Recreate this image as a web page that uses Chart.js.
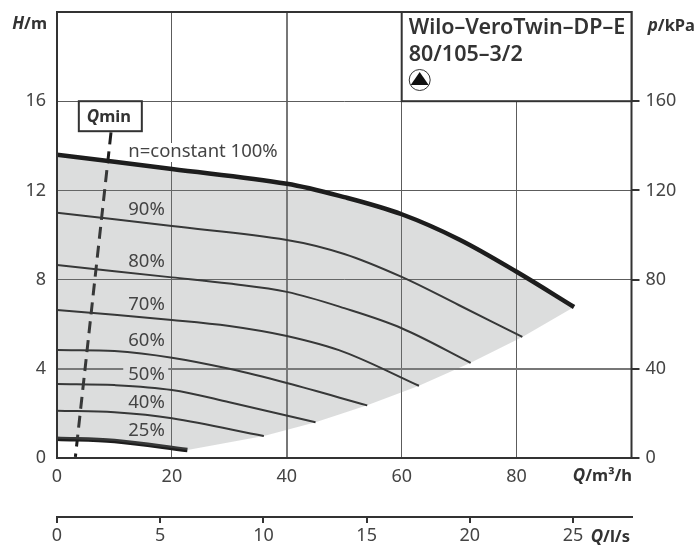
<!DOCTYPE html>
<html>
<head>
<meta charset="utf-8">
<title>Wilo-VeroTwin-DP-E 80/105-3/2</title>
<script src="https://cdn.jsdelivr.net/npm/chart.js@4/dist/chart.umd.min.js"></script>
<style>
  html, body { margin: 0; padding: 0; background: #fff; }
  canvas { display: block; }
</style>
</head>
<body>
<canvas id="pump" width="696" height="551"></canvas>
<script>
// Q in m3/h, H in m
var q100 = [0, 20, 40, 50, 60, 70, 80, 90];
var h100 = [13.6, 12.96, 12.3, 11.7, 10.93, 9.8, 8.35, 6.77];
var q90 = [0, 20, 40, 50, 60, 70, 81];
var h90 = [11.0, 10.4, 9.78, 9.15, 8.12, 6.85, 5.43];
var q80 = [0, 20, 30, 40, 50, 60, 72];
var h80 = [8.65, 8.1, 7.82, 7.45, 6.72, 5.82, 4.27];
var q70 = [0, 20, 30, 40, 50, 63];
var h70 = [6.64, 6.19, 5.92, 5.47, 4.75, 3.24];
var q60 = [0, 10, 20, 30, 40, 54];
var h60 = [4.84, 4.8, 4.5, 4.0, 3.36, 2.36];
var q50 = [0, 10, 20, 30, 45];
var h50 = [3.32, 3.27, 3.05, 2.5, 1.6];
var q40 = [0, 10, 20, 36];
var h40 = [2.12, 2.05, 1.78, 0.99];
var q25 = [0, 10, 22.7];
var h25 = [0.86, 0.76, 0.36];
var qMinQ = [9.4, 3.2];
var qMinH = [14.6, 0.05];

var curveLabels = ['n=constant 100%', '90%', '80%', '70%', '60%', '50%', '40%', '25%'];
var leftTicks = [0, 4, 8, 12, 16];
var rightTicks = [0, 40, 80, 120, 160];
var titleLines = ['Wilo\u2013VeroTwin\u2013DP\u2013E', '80/105\u20133/2'];

var FONT = '"Noto Sans", sans-serif';
var INK = '#1d1d1d';
var TEXT = '#444';
var GRID = '#5c5c5c';

function pts(xs, ys) {
    return xs.map(function(x, i) { return { x: x, y: ys[i] }; });
}

// lower edge of the grey area: 25% curve, then the ends of the other curves
function lowerEdge() {
    var edge = pts(q25, h25);
    [[q40, h40], [q50, h50], [q60, h60], [q70, h70], [q80, h80], [q90, h90], [q100, h100]].forEach(function(c) {
        var last = c[0].length - 1;
        edge.push({ x: c[0][last], y: c[1][last] });
    });
    return edge;
}

function curve(label, xs, ys, width) {
    return {
        label: label,
        data: pts(xs, ys),
        borderColor: INK,
        borderWidth: width,
        pointRadius: 0,
        tension: 0.35,
        borderCapStyle: 'butt',
        fill: false
    };
}

// text made of runs, so the italic letter can sit next to the upright ones
function runs(ctx, parts, x, y, align) {
    ctx.textBaseline = 'middle';
    ctx.textAlign = 'left';
    var total = 0;
    parts.forEach(function(p) {
        ctx.font = p[1];
        total += ctx.measureText(p[0]).width;
    });
    var cx = align === 'right' ? x - total : x;
    parts.forEach(function(p) {
        ctx.font = p[1];
        ctx.fillText(p[0], cx, y);
        cx += ctx.measureText(p[0]).width;
    });
}

var overlay = {
    id: 'overlay',
    afterDatasetsDraw: function(chart) {
        var ctx = chart.ctx;
        var sx = chart.scales.x;
        var sy = chart.scales.y;
        var a = chart.chartArea;
        var it = 'italic 700 17px ' + FONT;
        var bd = '700 16.5px ' + FONT;
        ctx.save();

        // breaks in the grid behind two of the curve labels
        var labelX = sx.getPixelForValue(12.4);
        ctx.fillStyle = '#fff';
        ctx.fillRect(sx.getPixelForValue(20) - 2, 143, 4, 19);
        ctx.fillStyle = '#dcddde';
        ctx.fillRect(labelX - 5, sy.getPixelForValue(4) - 2, 45, 4);

        var labelY = [152, 210, 262, 305, 341, 375, 403, 431];
        ctx.fillStyle = TEXT;
        ctx.font = '18.5px ' + FONT;
        ctx.textAlign = 'left';
        ctx.textBaseline = 'middle';
        curveLabels.forEach(function(t, i) {
            ctx.fillText(t, labelX, labelY[i]);
        });

        // frame
        ctx.strokeStyle = '#333';
        ctx.lineWidth = 2;
        ctx.strokeRect(a.left, a.top, a.right - a.left, a.bottom - a.top);

        // type box
        var bx = sx.getPixelForValue(60);
        var by = sy.getPixelForValue(16);
        ctx.fillStyle = '#fff';
        ctx.fillRect(bx, a.top, a.right - bx, by - a.top);
        ctx.strokeRect(bx, a.top, a.right - bx, by - a.top);
        ctx.fillStyle = '#333';
        ctx.font = '600 21.5px ' + FONT;
        ctx.fillText(titleLines[0], bx + 7, 28);
        ctx.fillText(titleLines[1], bx + 7, 55);
        ctx.beginPath();
        ctx.arc(bx + 18, 80, 10.5, 0, Math.PI * 2);
        ctx.lineWidth = 1;
        ctx.stroke();
        ctx.fillStyle = '#111';
        ctx.beginPath();
        ctx.moveTo(bx + 18, 72);
        ctx.lineTo(bx + 27, 85);
        ctx.lineTo(bx + 9, 85);
        ctx.closePath();
        ctx.fill();

        // Qmin box
        var qx = sx.getPixelForValue(3.8);
        var qy = sy.getPixelForValue(16);
        ctx.fillStyle = '#fff';
        ctx.fillRect(qx, qy, 63, 30);
        ctx.strokeStyle = '#333';
        ctx.lineWidth = 2;
        ctx.strokeRect(qx, qy, 63, 30);
        ctx.fillStyle = '#333';
        runs(ctx, [['Q', it], ['min', bd]], qx + 8, qy + 16, 'left');

        // axis names
        runs(ctx, [['H', it], ['/m', bd]], 47, 24, 'right');
        runs(ctx, [['p', it], ['/kPa', bd]], 695, 26, 'right');
        runs(ctx, [['Q', it], ['/m\u00b3/h', bd]], 632, 476, 'right');
        runs(ctx, [['Q', it], ['/l/s', bd]], 630, 537, 'right');
        ctx.restore();
    }
};

var edgeSet = {
    label: 'edge',
    data: lowerEdge(),
    borderWidth: 0,
    borderColor: 'transparent',
    pointRadius: 0,
    fill: false
};
var topSet = curve(curveLabels[0], q100, h100, 4.5);
topSet.fill = { target: 1 };
topSet.backgroundColor = 'rgba(125,128,131,0.27)';
var qMinSet = curve('Qmin', qMinQ, qMinH, 3);
qMinSet.borderDash = [12, 7];
qMinSet.tension = 0;

new Chart(document.getElementById('pump'), {
    type: 'line',
    data: {
        datasets: [
            topSet,
            edgeSet,
            curve(curveLabels[1], q90, h90, 2),
            curve(curveLabels[2], q80, h80, 2),
            curve(curveLabels[3], q70, h70, 2),
            curve(curveLabels[4], q60, h60, 2),
            curve(curveLabels[5], q50, h50, 2),
            curve(curveLabels[6], q40, h40, 2),
            curve(curveLabels[7], q25, h25, 4.5),
            qMinSet
        ]
    },
    options: {
        responsive: false,
        animation: false,
        layout: { padding: { top: 12 } },
        plugins: { legend: { display: false }, tooltip: { enabled: false } },
        events: [],
        scales: {
            x: {
                type: 'linear', position: 'bottom', weight: 0,
                min: 0, max: 100,
                afterFit: function(s) { s.height = 59; s.paddingLeft = 0; s.paddingRight = 0; },
                border: { display: false },
                grid: {
                    color: function(c) { return c.tick && c.tick.value === 40 ? '#777' : GRID; },
                    lineWidth: function(c) { return c.tick && c.tick.value === 40 ? 2 : 1; },
                    drawTicks: false
                },
                ticks: {
                    stepSize: 20, maxRotation: 0, padding: 8,
                    color: TEXT, font: { family: FONT, size: 18 },
                    callback: function(v) { return v === 100 ? '' : v; }
                }
            },
            x2: {
                type: 'linear', axis: 'x', position: 'bottom', weight: 1,
                min: 0, max: 27.83,
                afterFit: function(s) { s.height = 34; s.paddingLeft = 0; s.paddingRight = 0; },
                border: { display: true, color: '#333', width: 2 },
                grid: { drawOnChartArea: false, color: '#333', lineWidth: 2, tickLength: 6 },
                ticks: {
                    stepSize: 5, includeBounds: false, maxRotation: 0, padding: 2,
                    color: TEXT, font: { family: FONT, size: 18 }
                }
            },
            y: {
                type: 'linear', position: 'left',
                min: 0, max: 20,
                afterFit: function(s) { s.width = 57; s.paddingTop = 0; s.paddingBottom = 0; },
                afterBuildTicks: function(s) {
                    s.ticks = leftTicks.concat([20]).map(function(v) { return { value: v }; });
                },
                border: { display: false },
                grid: {
                    color: function(c) { return c.tick && c.tick.value === 4 ? '#777' : GRID; },
                    lineWidth: function(c) { return c.tick && c.tick.value === 4 ? 2 : 1; },
                    drawTicks: false
                },
                ticks: {
                    padding: 11, color: TEXT, font: { family: FONT, size: 18 },
                    callback: function(v) { return v === 20 ? '' : v; }
                }
            },
            y2: {
                type: 'linear', axis: 'y', position: 'right',
                min: 0, max: 200,
                afterFit: function(s) { s.width = 64.5; s.paddingTop = 0; s.paddingBottom = 0; },
                afterBuildTicks: function(s) {
                    s.ticks = rightTicks.map(function(v) { return { value: v }; });
                },
                border: { display: false },
                grid: { drawOnChartArea: false, color: '#333', lineWidth: 2, tickLength: 8 },
                ticks: { padding: 6, color: TEXT, font: { family: FONT, size: 18 } }
            }
        }
    },
    plugins: [overlay]
});
</script>
</body>
</html>
